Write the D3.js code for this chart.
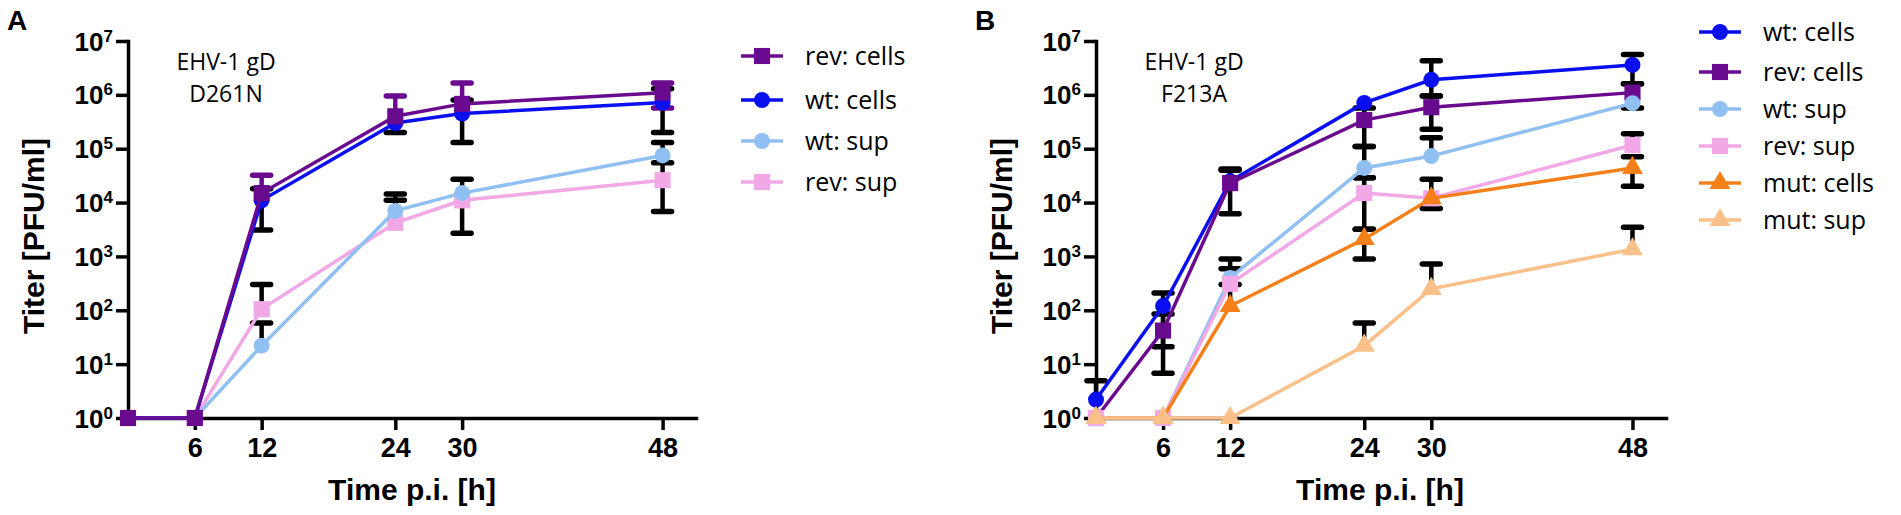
<!DOCTYPE html>
<html>
<head>
<meta charset="utf-8">
<script src="https://cdn.jsdelivr.net/npm/d3@7"></script>
<style>
  html, body { margin: 0; padding: 0; background: #fff; }
  svg { display: block; }
  .tick text, .ttl { font-family: "Liberation Sans", Arial, sans-serif; font-weight: bold; fill: #000; }
  .note, .leg { font-family: "Open Sans", sans-serif; fill: #000; }
</style>
</head>
<body>
<svg id="chart" width="1901" height="515"></svg>
<script>
// time points (h p.i.)
const times = [0, 6, 12, 24, 30, 48];
const xTicks = [6, 12, 24, 30, 48];
const yTicks = [1, 1e1, 1e2, 1e3, 1e4, 1e5, 1e6, 1e7];

// panel A: EHV-1 gD D261N
const revCellsA = [1, 1, 1.5e4, 4.0e5, 6.8e5, 1.1e6];
const revCellsAHi = [null, null, 3.2e4, 9.5e5, 1.66e6, 1.66e6];
const revCellsALo = [null, null, null, null, null, 5.7e5];
const wtCellsA = [1, 1, 1.1e4, 3.0e5, 4.5e5, 7.2e5];
const wtCellsAHi = [null, null, 1.8e4, null, 8.0e5, 1.3e6];
const wtCellsALo = [null, null, 3.1e3, 2.0e5, 1.3e5, 2.0e5];
const wtSupA = [1, 1, 22, 7.0e3, 1.5e4, 7.5e4];
const wtSupAHi = [null, null, 58, 1.45e4, 2.7e4, 1.3e5];
const wtSupALo = [null, null, null, null, null, null];
const revSupA = [1, 1, 105, 4.2e3, 1.1e4, 2.6e4];
const revSupAHi = [null, null, 300, 1.1e4, null, 5.5e4];
const revSupALo = [null, null, null, null, 2.7e3, 6.8e3];

// panel B: EHV-1 gD F213A
const wtCellsB = [2.2, 120, 2.5e4, 7.1e5, 1.9e6, 3.6e6];
const wtCellsBHi = [4.9, 210, 4.2e4, null, 4.3e6, 5.6e6];
const wtCellsBLo = [null, 21, null, null, 9.5e5, 1.6e6];
const revCellsB = [1, 42, 2.3e4, 3.4e5, 5.9e5, 1.1e6];
const revCellsBHi = [null, 85, 4.0e4, 5.7e5, 9.5e5, 1.6e6];
const revCellsBLo = [null, 6.8, 6.2e3, 1.1e5, 2.3e5, 5.7e5];
const wtSupB = [1, 1, 400, 4.4e4, 7.3e4, 7.0e5];
const wtSupBHi = [null, null, 900, 1.1e5, 1.6e5, null];
const wtSupBLo = [null, null, null, 2.9e4, null, null];
const revSupB = [1, 1, 310, 1.5e4, 1.2e4, 1.17e5];
const revSupBHi = [null, null, 590, 2.9e4, 2.7e4, 1.9e5];
const revSupBLo = [null, null, null, 3.2e3, 7.8e3, null];
const mutCellsB = [1, 1, 120, 2.1e3, 1.2e4, 4.4e4];
const mutCellsBHi = [null, null, 300, 3.2e3, null, 7.1e4];
const mutCellsBLo = [null, null, null, 900, null, 2.0e4];
const mutSupB = [1, 1, 1, 22, 250, 1.36e3];
const mutSupBHi = [null, null, null, 58, 720, 3.5e3];
const mutSupBLo = [null, null, null, null, null, null];

const C = {
  revCells: '#6a0a8e', wtCells: '#0a0ff0', wtSup: '#90c0f2',
  revSup: '#f2a8e6', mutCells: '#f5801a', mutSup: '#f9c08a'
};

const svg = d3.select('#chart');

function drawPanel(cfg) {
  const g = svg.append('g');
  const x = d3.scaleLinear().domain([0, 51]).range([cfg.left, cfg.right]);
  const y = d3.scaleLog().domain([1, 1e7]).range([418, 41]);

  // axes
  const yAxis = d3.axisLeft(y).tickValues(yTicks).tickSize(12).tickSizeOuter(0).tickPadding(3).tickFormat(() => '');
  const gy = g.append('g').attr('transform', `translate(${cfg.left},0)`).call(yAxis);
  gy.selectAll('.tick text').each(function (d) {
    const t = d3.select(this).attr('dy', null).attr('y', 9).attr('font-size', 26);
    t.append('tspan').text('10');
    t.append('tspan').attr('font-size', 17).attr('dy', -9).text(Math.round(Math.log10(d)));
  });

  const xAxis = d3.axisBottom(x).tickValues(xTicks).tickSize(12).tickSizeOuter(0).tickPadding(8);
  const gx = g.append('g').attr('transform', 'translate(0,418)').call(xAxis);
  gx.selectAll('.tick text').attr('font-size', 27);

  g.selectAll('.domain, .tick line').attr('stroke', '#000').attr('stroke-width', 3.5);
  gy.select('.domain').attr('stroke-linecap', 'square');
  gx.select('.domain').attr('stroke-linecap', 'square');

  // titles
  g.append('text').attr('class', 'ttl').attr('font-size', 30).attr('text-anchor', 'middle')
    .attr('x', cfg.left + 284).attr('y', 500).text('Time p.i. [h]');
  g.append('text').attr('class', 'ttl').attr('font-size', 30).attr('text-anchor', 'middle')
    .attr('transform', `translate(${cfg.left - 84},236) rotate(-90)`).text('Titer [PFU/ml]');
  g.append('text').attr('class', 'ttl').attr('font-size', 28)
    .attr('x', cfg.left - 121).attr('y', 30).text(cfg.letter);
  const note = g.append('text').attr('class', 'note').attr('font-size', 23).attr('text-anchor', 'middle');
  note.append('tspan').attr('x', cfg.left + 98).attr('y', 70).text('EHV-1 gD');
  note.append('tspan').attr('x', cfg.left + 98).attr('y', 102).text(cfg.mutation);

  // error bars
  const eb = g.append('g');
  cfg.series.forEach(s => {
    s.values.forEach((v, i) => {
      [s.hi[i], s.lo[i]].forEach(e => {
        if (e == null) return;
        const col = s.barColor || '#000';
        eb.append('line').attr('x1', x(times[i])).attr('x2', x(times[i]))
          .attr('y1', y(v)).attr('y2', y(e)).attr('stroke', col).attr('stroke-width', 4.5);
        eb.append('line').attr('x1', x(times[i]) - 9).attr('x2', x(times[i]) + 9)
          .attr('y1', y(e)).attr('y2', y(e)).attr('stroke', col)
          .attr('stroke-width', 5.5).attr('stroke-linecap', 'round');
      });
    });
  });

  // lines and markers
  const line = d3.line().x((d, i) => x(times[i])).y(d => y(d));
  cfg.series.forEach(s => {
    g.append('path').datum(s.values).attr('d', line)
      .attr('fill', 'none').attr('stroke', s.color).attr('stroke-width', 3.5);
    g.selectAll(null).data(s.values).join('path')
      .attr('transform', (d, i) => `translate(${x(times[i])},${y(d)})`)
      .attr('d', d3.symbol(s.symbol, s.size))
      .attr('fill', s.color);
  });

  // legend
  const lg = g.append('g');
  cfg.legend.forEach((s, i) => {
    const cy = cfg.legRows[i];
    lg.append('line').attr('x1', cfg.legX - 21).attr('x2', cfg.legX + 21)
      .attr('y1', cy).attr('y2', cy).attr('stroke', s.color).attr('stroke-width', 3.5);
    lg.append('path').attr('transform', `translate(${cfg.legX},${cy})`)
      .attr('d', d3.symbol(s.symbol, s.size)).attr('fill', s.color);
    lg.append('text').attr('class', 'leg').attr('font-size', 25)
      .attr('x', cfg.legX + 43).attr('y', cy).attr('dy', '0.36em').text(s.name);
  });
}

const sq = d3.symbolSquare, ci = d3.symbolCircle, tr = d3.symbolTriangle;

const sA = {
  revCells: { name: 'rev: cells', values: revCellsA, hi: revCellsAHi, lo: revCellsALo, color: C.revCells, barColor: C.revCells, symbol: sq, size: 260 },
  wtCells: { name: 'wt: cells', values: wtCellsA, hi: wtCellsAHi, lo: wtCellsALo, color: C.wtCells, symbol: ci, size: 200 },
  wtSup: { name: 'wt: sup', values: wtSupA, hi: wtSupAHi, lo: wtSupALo, color: C.wtSup, symbol: ci, size: 200 },
  revSup: { name: 'rev: sup', values: revSupA, hi: revSupAHi, lo: revSupALo, color: C.revSup, symbol: sq, size: 260 }
};
drawPanel({
  letter: 'A', mutation: 'D261N', left: 128, right: 696,
  series: [sA.revSup, sA.wtSup, sA.wtCells, sA.revCells],
  legend: [sA.revCells, sA.wtCells, sA.wtSup, sA.revSup],
  legX: 762, legRows: [56, 100, 141, 182]
});

const sB = {
  wtCells: { name: 'wt: cells', values: wtCellsB, hi: wtCellsBHi, lo: wtCellsBLo, color: C.wtCells, symbol: ci, size: 200 },
  revCells: { name: 'rev: cells', values: revCellsB, hi: revCellsBHi, lo: revCellsBLo, color: C.revCells, symbol: sq, size: 260 },
  wtSup: { name: 'wt: sup', values: wtSupB, hi: wtSupBHi, lo: wtSupBLo, color: C.wtSup, symbol: ci, size: 200 },
  revSup: { name: 'rev: sup', values: revSupB, hi: revSupBHi, lo: revSupBLo, color: C.revSup, symbol: sq, size: 260 },
  mutCells: { name: 'mut: cells', values: mutCellsB, hi: mutCellsBHi, lo: mutCellsBLo, color: C.mutCells, symbol: tr, size: 190 },
  mutSup: { name: 'mut: sup', values: mutSupB, hi: mutSupBHi, lo: mutSupBLo, color: C.mutSup, symbol: tr, size: 190 }
};
const orderB = [sB.wtCells, sB.revCells, sB.wtSup, sB.revSup, sB.mutCells, sB.mutSup];
drawPanel({
  letter: 'B', mutation: 'F213A', left: 1096, right: 1666,
  series: orderB, legend: orderB,
  legX: 1720, legRows: [32, 72, 109, 146, 183, 220]
});
</script>
</body>
</html>
